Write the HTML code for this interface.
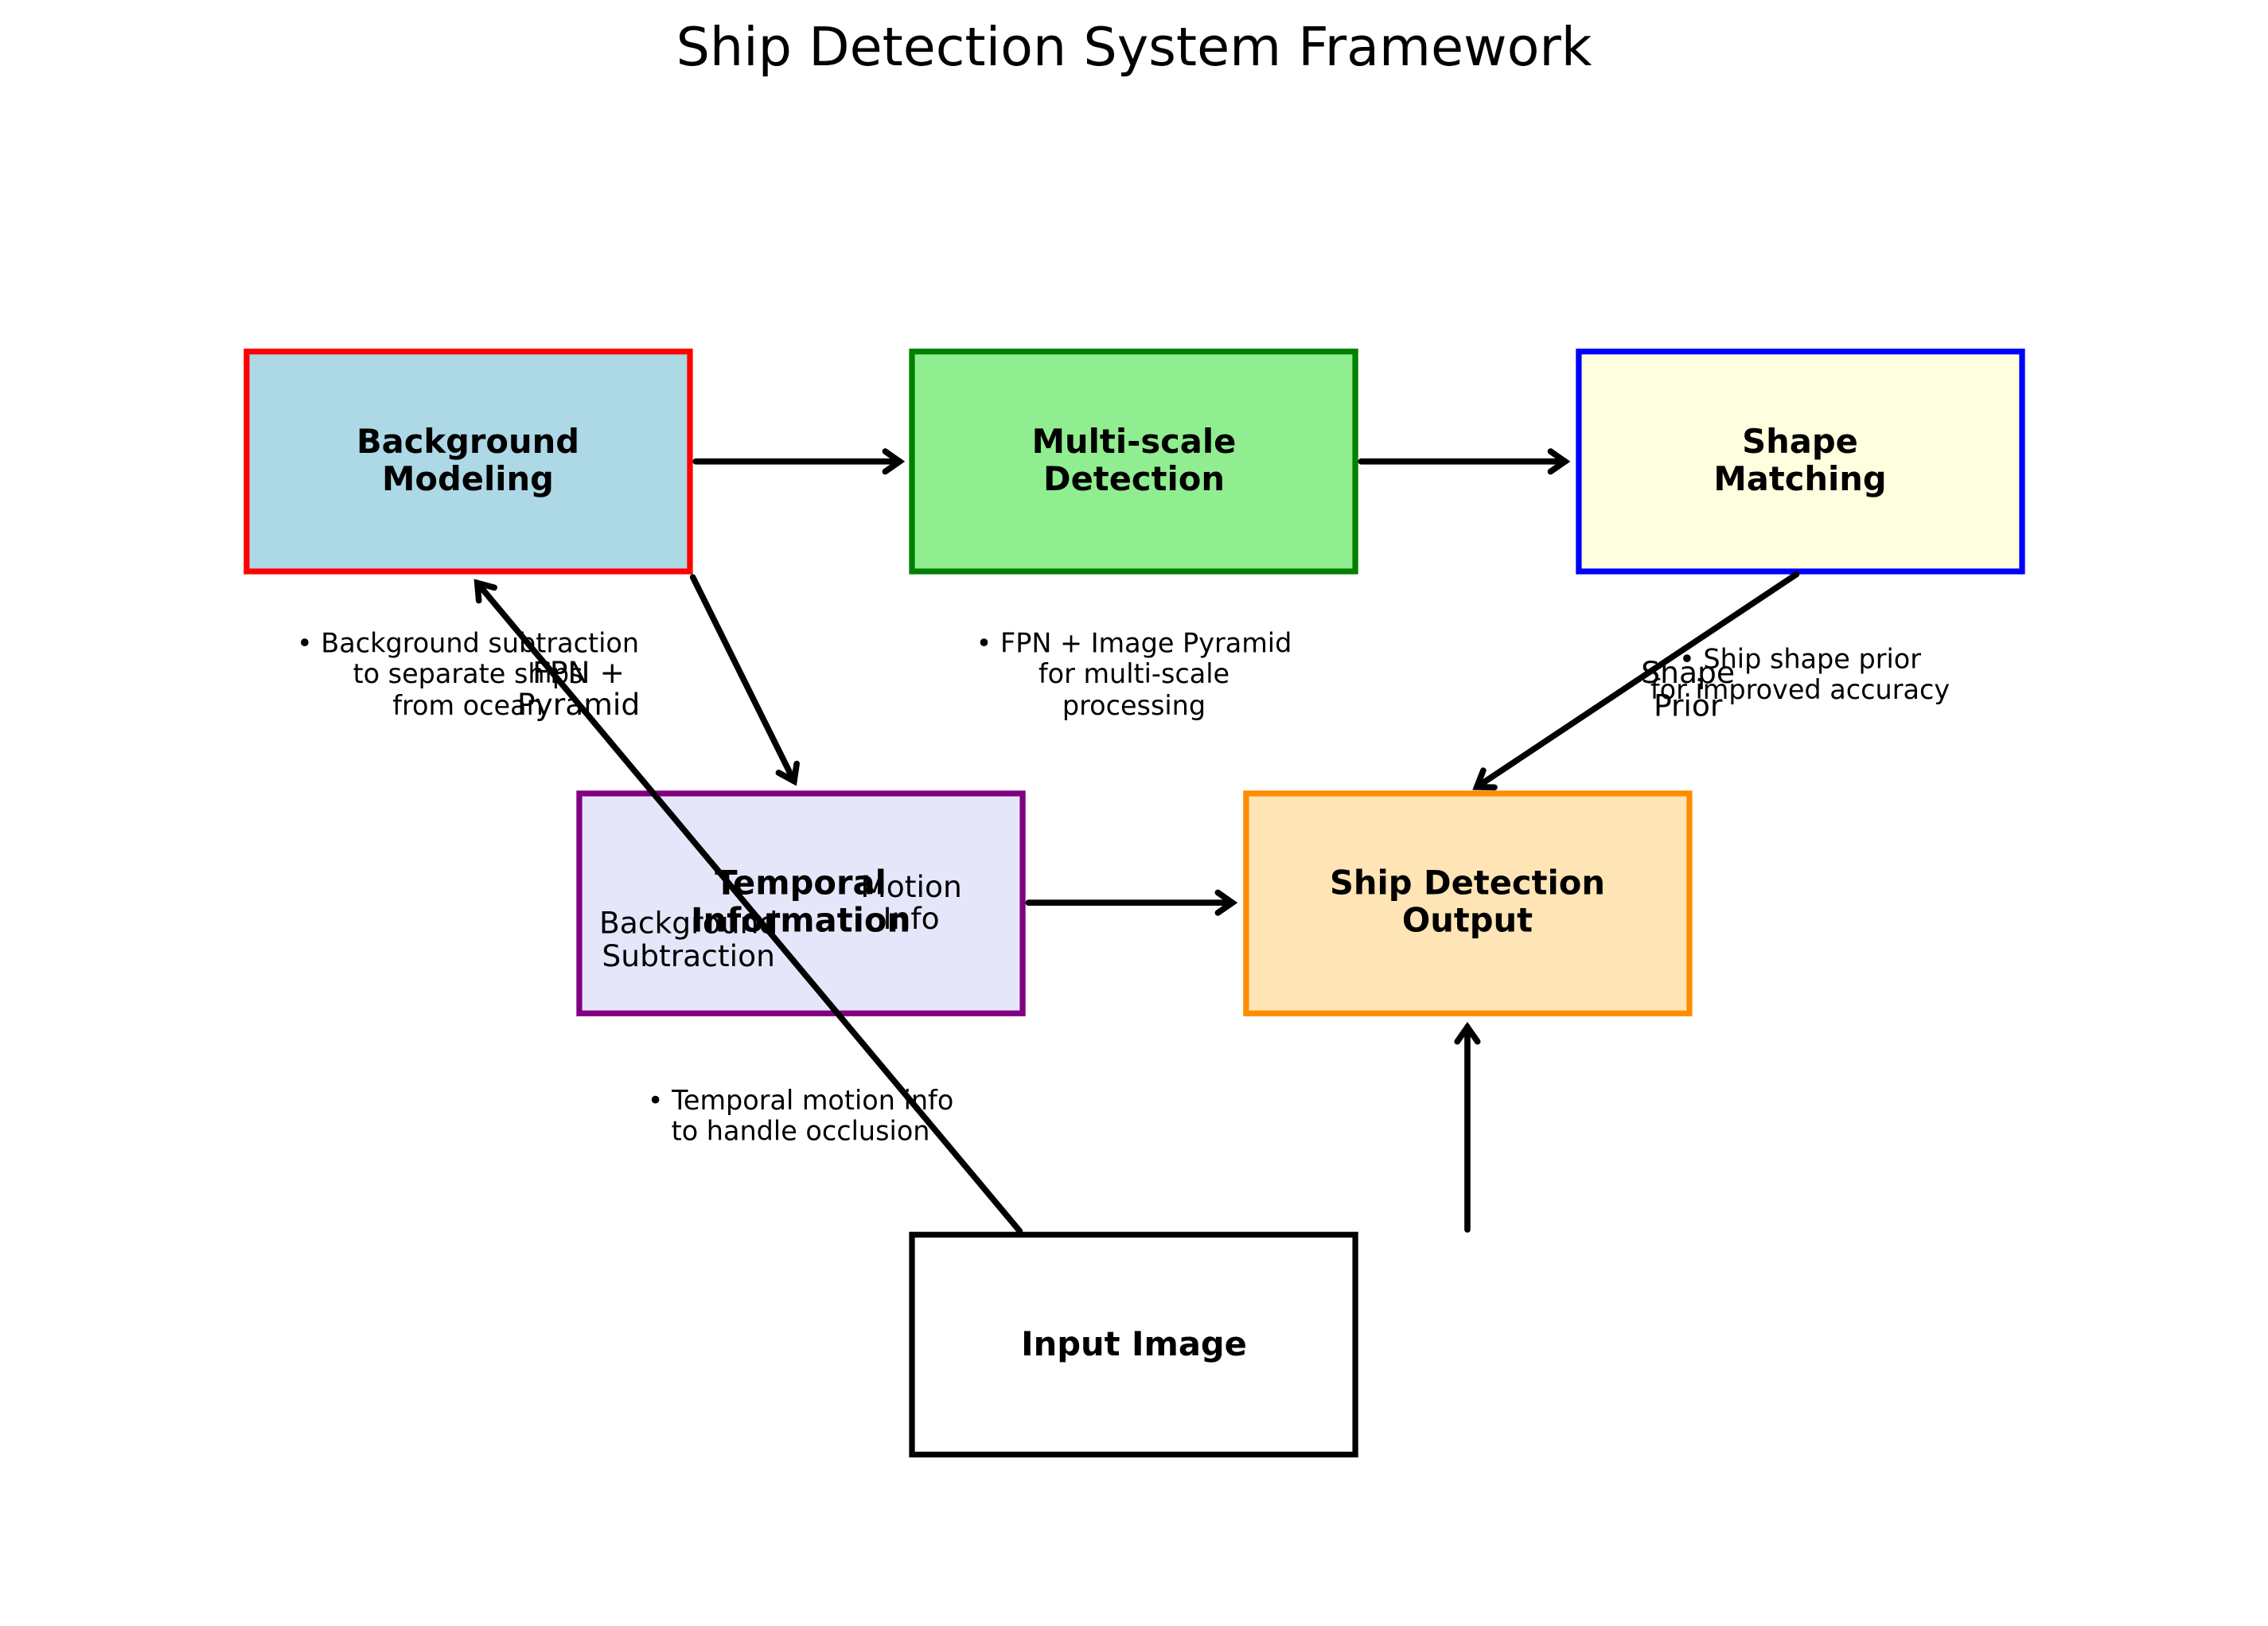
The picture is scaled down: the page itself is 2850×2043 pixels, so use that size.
<!DOCTYPE html>
<html><head><meta charset="utf-8"><style>html,body{margin:0;padding:0;background:#fff}svg{display:block}</style></head>
<body>
<svg xmlns="http://www.w3.org/2000/svg" width="2850" height="2043" viewBox="0 0 1568 1124" font-family="DejaVu Sans, Liberation Sans, sans-serif">
<defs>
<marker id="ah" viewBox="0 0 24 24" refX="14" refY="12" markerWidth="24" markerHeight="24" markerUnits="userSpaceOnUse" orient="auto" overflow="visible">
<path d="M4,5 L14,12 L4,19" fill="none" stroke="#000" stroke-width="4.2" stroke-linecap="round" stroke-linejoin="miter"/>
</marker>
</defs>
<rect width="1568" height="1124" fill="#fff"/>
<text x="784" y="45" font-size="36.7" text-anchor="middle">Ship Detection System Framework</text>
<g stroke-width="4">
<rect x="170.5" y="243" width="306.5" height="152" fill="#add8e6" stroke="#ff0000"/>
<rect x="630.5" y="243" width="306.5" height="152" fill="#90ee90" stroke="#008000"/>
<rect x="1091.5" y="243" width="306.5" height="152" fill="#ffffe0" stroke="#0000ff"/>
<rect x="400.5" y="548.5" width="306.5" height="152" fill="#e6e6fa" stroke="#800080"/>
<rect x="861.5" y="548.5" width="306.5" height="152" fill="#ffe4b5" stroke="#ff8c00"/>
<rect x="630.5" y="853.5" width="306.5" height="152" fill="#ffffff" stroke="#000000"/>
</g>
<g font-size="22.9" font-weight="bold" text-anchor="middle">
<text x="323.5" y="313">Background</text><text x="323.5" y="339">Modeling</text>
<text x="784" y="313">Multi-scale</text><text x="784" y="339">Detection</text>
<text x="1244.5" y="313">Shape</text><text x="1244.5" y="339">Matching</text>
<text x="553.5" y="618">Temporal</text><text x="553.5" y="644">Information</text>
<text x="1014.5" y="618">Ship Detection</text><text x="1014.5" y="644">Output</text>
<text x="784" y="937">Input Image</text>
</g>
<g stroke="#000" stroke-width="4.2" stroke-linecap="round" fill="none">
<path d="M481,319 L622,319" marker-end="url(#ah)"/>
<path d="M941,319 L1082,319" marker-end="url(#ah)"/>
<path d="M479,399 L549,540" marker-end="url(#ah)"/>
<path d="M1242,397 L1021,544" marker-end="url(#ah)"/>
<path d="M711,624 L852,624" marker-end="url(#ah)"/>
<path d="M705,851 L330,403" marker-end="url(#ah)"/>
<path d="M1014.5,850 L1014.5,710" marker-end="url(#ah)"/>
</g>
<g font-size="18.4" text-anchor="middle">
<text x="323.5" y="451">• Background subtraction</text>
<text x="323.5" y="472">to separate ships</text>
<text x="323.5" y="494">from ocean</text>
<text x="784" y="451">• FPN + Image Pyramid</text>
<text x="784" y="472">for multi-scale</text>
<text x="784" y="494">processing</text>
<text x="1244.5" y="462">• Ship shape prior</text>
<text x="1244.5" y="483">for improved accuracy</text>
<text x="553.5" y="767">• Temporal motion info</text>
<text x="553.5" y="788">to handle occlusion</text>
</g>
<g font-size="20.7" text-anchor="middle">
<text x="400" y="472">FPN +</text><text x="400" y="494">Pyramid</text>
<text x="1167" y="472">Shape</text><text x="1167" y="495">Prior</text>
<text x="630" y="620">Motion</text><text x="630" y="642">Info</text>
<text x="476" y="645">Background</text><text x="476" y="668">Subtraction</text>
</g>
</svg>
</body></html>
